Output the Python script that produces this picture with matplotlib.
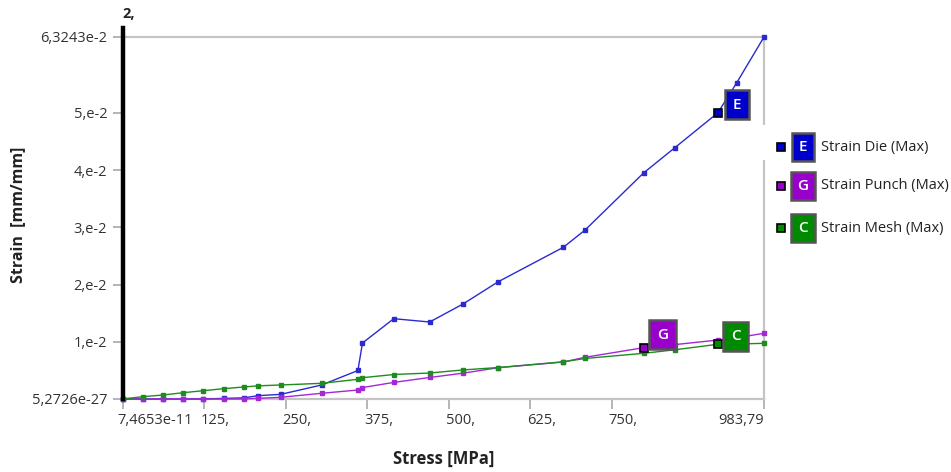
import matplotlib
matplotlib.use("Agg")
import matplotlib.pyplot as plt
from matplotlib.patches import Rectangle
from matplotlib.lines import Line2D
import matplotlib.transforms as mtransforms

plt.rcParams['font.family'] = ['Open Sans', 'DejaVu Sans']

# ---- data ----
stress = [0, 31, 62, 93, 124, 155, 186, 208, 243, 305.5, 361, 368, 416, 471,
          521.5, 576.4, 676, 709.4, 799, 847, 913, 942, 983.79]
strain_die = [0, 0, 0, 0, 0, 0.0001, 0.0002, 0.00058, 0.00082, 0.00245, 0.00498,
              0.00978, 0.01403, 0.01345, 0.01655, 0.0205, 0.0265, 0.02952,
              0.03948, 0.0439, 0.0500, 0.05526, 0.063243]
strain_punch = [0, 0, 0, 0, 0, 0, 0, 0.00012, 0.0003, 0.0010, 0.00157, 0.0020,
                0.0029, 0.00376, 0.0045, 0.00547, 0.00646, 0.00729, 0.00896,
                0.0095, 0.0103, 0.0107, 0.01148]
strain_mesh = [0, 0.0004, 0.0007, 0.0011, 0.00145, 0.0018, 0.0021, 0.0023,
               0.00245, 0.00274, 0.00344, 0.00372, 0.00428, 0.00454, 0.00507,
               0.0055, 0.0065, 0.00708, 0.00798, 0.0086, 0.00956, 0.0096, 0.00973]
series_names = ["Strain Die (Max)", "Strain Punch (Max)", "Strain Mesh (Max)"]
series_letters = ["E", "G", "C"]
xticks = [7.4653e-11, 125, 250, 375, 500, 625, 750, 983.79]
xticklabels = ["7,4653e-11", "125,", "250,", "375,", "500,", "625,", "750,", "983,79"]
yticks = [5.2726e-27, 0.01, 0.02, 0.03, 0.04, 0.05, 0.063243]
yticklabels = ["5,2726e-27", "1,e-2", "2,e-2", "3,e-2", "4,e-2", "5,e-2", "6,3243e-2"]
# index of the data point where each letter marker sits
label_idx = [20, 18, 20]

colors = ["#2a2ad0", "#a428d8", "#1e8c1e"]
box_colors = ["#0000cc", "#9900cc", "#008a00"]

W, H = 951, 472
fig = plt.figure(figsize=(W / 100, H / 100), dpi=100)
ax = fig.add_axes([122.5 / W, 1 - 399 / H, (764 - 122.5) / W, (399 - 37) / H])

series = [strain_die, strain_punch, strain_mesh]
for ys, c in zip(series, colors):
    ax.plot(stress, ys, color=c, lw=1.0, marker='s', ms=2.2, mec=c, mfc=c, zorder=3,
            clip_on=False)

ax.set_xlim(0, 983.79)
ax.set_ylim(0, 0.063243)

ax.set_xticks(xticks)
ax.set_xticklabels(xticklabels)
ax.set_yticks(yticks)
ax.set_yticklabels(yticklabels)
ax.tick_params(axis='both', colors='#b0b0b0', labelcolor='#333333', labelsize=10.5,
               length=7, width=1.3)
ax.tick_params(axis='x', pad=3)
ax.tick_params(axis='y', pad=4)
for i, lab in enumerate(ax.get_xticklabels()):
    if i == len(xticks) - 1:
        lab.set_ha('right')
        off = mtransforms.ScaledTranslation(0, 0, fig.dpi_scale_trans)
    elif i == 0:
        lab.set_ha('left')
        off = mtransforms.ScaledTranslation(-5 / 100, 0, fig.dpi_scale_trans)
    else:
        lab.set_ha('left')
        off = mtransforms.ScaledTranslation(-3 / 100, 0, fig.dpi_scale_trans)
    lab.set_transform(lab.get_transform() + off)

for s in ['top', 'right', 'bottom']:
    ax.spines[s].set_color('#c4c4c4')
    ax.spines[s].set_linewidth(1.6)
ax.spines['left'].set_visible(False)
ax.add_line(Line2D([0, 0], [0, 1.025], transform=ax.transAxes, color='black',
                   lw=3.2, clip_on=False, zorder=5))
ax.text(0.0, 1.045, "2,", transform=ax.transAxes, fontsize=10.5, fontweight='bold',
        ha='left', va='bottom', color='#222222')

ax.set_xlabel("Stress [MPa]", fontsize=12, fontweight='bold', color='#222222', labelpad=16)
fig.text(18 / W, 1 - 215 / H, "Strain  [mm/mm]", rotation=90, fontsize=11.5,
         fontweight='bold', color='#222222', ha='center', va='center')

# letter markers on the curves
offsets = [(19, 8), (19, 13), (18, 8)]
for ys, letter, bc, idx, off in zip(series, series_letters, box_colors, label_idx, offsets):
    ax.plot([stress[idx]], [ys[idx]], marker='s', ms=6, mfc=bc, mec='black', mew=1.2,
            zorder=6, clip_on=False)
    ax.annotate(letter, xy=(stress[idx], ys[idx]), xytext=off, textcoords='offset pixels',
                ha='center', va='center', color='white', fontsize=11, fontweight='semibold',
                bbox=dict(boxstyle='square,pad=0.5', fc=bc, ec='#555555', lw=1.8),
                zorder=7)

# white gap in right border where legend sits
fig.patches.append(Rectangle((760 / W, 1 - 160 / H), 10 / W, 35 / H, transform=fig.transFigure,
                             fc='white', ec='none', zorder=10))

# legend
leg_y = [147, 186, 228]
for name, letter, bc, y in zip(series_names, series_letters, box_colors, leg_y):
    fig.patches.append(Rectangle((777 / W, 1 - (y + 4) / H), 8 / W, 8 / H,
                                 transform=fig.transFigure, fc=bc, ec='black', lw=1.2, zorder=11))
    fig.text(803 / W, 1 - y / H, letter, ha='center', va='center', color='white',
             fontsize=11, fontweight='semibold', zorder=12,
             bbox=dict(boxstyle='square,pad=0.45', fc=bc, ec='#555555', lw=1.8))
    fig.text(821 / W, 1 - y / H, name, ha='left', va='center', color='#222222', fontsize=10.5)

fig.savefig("out.png", dpi=100, facecolor='white')
